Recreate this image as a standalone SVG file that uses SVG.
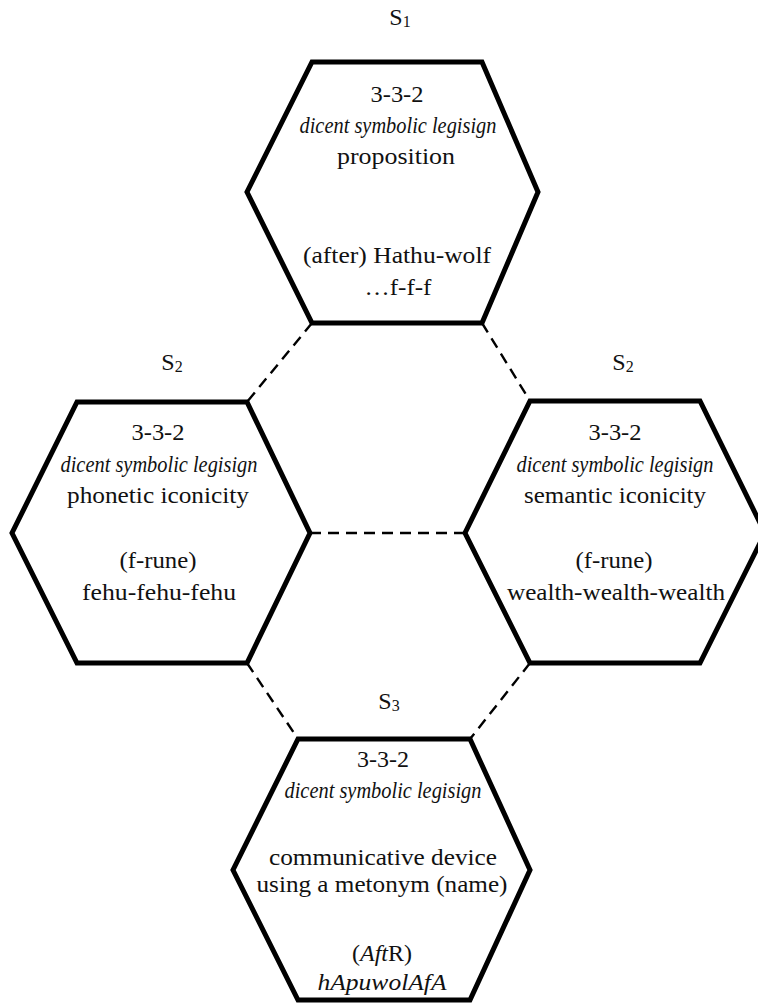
<svg xmlns="http://www.w3.org/2000/svg" width="758" height="1004" viewBox="0 0 758 1004" font-family="Liberation Serif, serif">
<style>
.hex{fill:none;stroke:#000;stroke-width:5;stroke-linejoin:miter}
.con{stroke:#000;stroke-width:2.4;stroke-dasharray:11 7;fill:none}
text{font-family:"Liberation Serif",serif;font-size:24px;fill:#111;text-anchor:middle}
.it{font-style:italic}
.lbl{font-size:24px}
.sub{font-size:16px}
</style>
<rect width="758" height="1004" fill="#fff"/>
<g id="connectors">
<line class="con" x1="312" y1="323" x2="247" y2="402"/>
<line class="con" x1="482" y1="323" x2="530" y2="401"/>
<line class="con" x1="310" y1="533" x2="465" y2="533"/>
<line class="con" x1="247" y1="663" x2="298" y2="739"/>
<line class="con" x1="530" y1="663" x2="470" y2="739"/>
</g>
<g id="s1">
<polygon class="hex" points="312,62 482,62 538,192 482,323 312,323 247,192"/>
<text class="lbl" x="400" y="25">S<tspan class="sub" dy="2">1</tspan></text>
<text x="397" y="102" textLength="53" lengthAdjust="spacingAndGlyphs">3-3-2</text>
<text class="it" x="398" y="133" textLength="197" lengthAdjust="spacingAndGlyphs">dicent symbolic legisign</text>
<text x="396" y="164" textLength="118" lengthAdjust="spacingAndGlyphs">proposition</text>
<text x="397" y="263" textLength="188" lengthAdjust="spacingAndGlyphs">(after) Hathu-wolf</text>
<text x="398" y="295" textLength="67" lengthAdjust="spacingAndGlyphs">…f-f-f</text>
</g>
<g id="s2-left">
<polygon class="hex" points="77,402 247,402 310,533 247,663 77,663 12,533"/>
<text class="lbl" x="172" y="370">S<tspan class="sub" dy="2">2</tspan></text>
<text x="158" y="440" textLength="53" lengthAdjust="spacingAndGlyphs">3-3-2</text>
<text class="it" x="159" y="472" textLength="197" lengthAdjust="spacingAndGlyphs">dicent symbolic legisign</text>
<text x="158" y="503" textLength="182" lengthAdjust="spacingAndGlyphs">phonetic iconicity</text>
<text x="158" y="568" textLength="77" lengthAdjust="spacingAndGlyphs">(f-rune)</text>
<text x="159" y="600" textLength="154" lengthAdjust="spacingAndGlyphs">fehu-fehu-fehu</text>
</g>
<g id="s2-right">
<polygon class="hex" points="530,401 700,401 765,533 700,663 530,663 465,533"/>
<text class="lbl" x="623" y="370">S<tspan class="sub" dy="2">2</tspan></text>
<text x="615" y="440" textLength="53" lengthAdjust="spacingAndGlyphs">3-3-2</text>
<text class="it" x="615" y="472" textLength="197" lengthAdjust="spacingAndGlyphs">dicent symbolic legisign</text>
<text x="615" y="503" textLength="182" lengthAdjust="spacingAndGlyphs">semantic iconicity</text>
<text x="614" y="568" textLength="77" lengthAdjust="spacingAndGlyphs">(f-rune)</text>
<text x="616" y="600" textLength="218" lengthAdjust="spacingAndGlyphs">wealth-wealth-wealth</text>
</g>
<g id="s3">
<polygon class="hex" points="298,739 470,739 530,870 470,1000 298,1000 233,870"/>
<text class="lbl" x="389" y="709">S<tspan class="sub" dy="2">3</tspan></text>
<text x="383" y="767" textLength="52" lengthAdjust="spacingAndGlyphs">3-3-2</text>
<text class="it" x="383" y="798" textLength="197" lengthAdjust="spacingAndGlyphs">dicent symbolic legisign</text>
<text x="383" y="865" textLength="228" lengthAdjust="spacingAndGlyphs">communicative device</text>
<text x="382" y="892" textLength="251" lengthAdjust="spacingAndGlyphs">using a metonym (name)</text>
<text x="382" y="961">(<tspan class="it">Aft</tspan>R)</text>
<text class="it" x="382" y="990" textLength="129" lengthAdjust="spacingAndGlyphs">hApuwolAfA</text>
</g>
</svg>
